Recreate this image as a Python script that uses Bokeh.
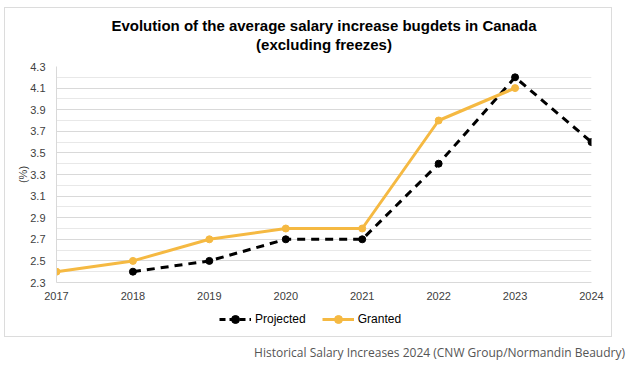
from bokeh.plotting import figure
from bokeh.models import (ColumnDataSource, FixedTicker, Legend, LegendItem, Range1d, Div, Title)
from bokeh.layouts import column
from bokeh.embed import file_html
from bokeh.resources import INLINE

years_projected = [2018, 2019, 2020, 2021, 2022, 2023, 2024]
projected = [2.4, 2.5, 2.7, 2.7, 3.4, 4.2, 3.6]
years_granted = [2017, 2018, 2019, 2020, 2021, 2022, 2023]
granted = [2.4, 2.5, 2.7, 2.8, 2.8, 3.8, 4.1]
y_ticks = [2.3, 2.5, 2.7, 2.9, 3.1, 3.3, 3.5, 3.7, 3.9, 4.1, 4.3]
x_ticks = [2017, 2018, 2019, 2020, 2021, 2022, 2023, 2024]

FONT = "Liberation Sans"
GOLD = "#F5B942"
BOX = "#dcdcdc"

p = figure(width=608, height=296, output_backend="svg", toolbar_location=None,
           x_range=Range1d(2017, 2024), y_range=Range1d(2.3, 4.3),
           min_border_left=51, min_border_right=22, min_border_top=58, min_border_bottom=22,
           margin=(7, 0, 0, 4),
           styles={"border-top": f"1px solid {BOX}", "border-left": f"1px solid {BOX}",
                   "border-right": f"1px solid {BOX}"})
p.outline_line_color = None
p.border_fill_color = "white"

p.title.text = "Evolution of the average salary increase bugdets in Canada"
p.title.align = "center"
p.title.text_font = FONT
p.title.text_font_size = "15px"
p.title.text_font_style = "bold"
p.title.text_color = "#000000"
p.title.standoff = 0
# spacer first (closest to the frame), then the second title line
p.add_layout(Title(text=" ", align="center", text_font=FONT, text_font_size="11px",
                   standoff=0), "above")
p.add_layout(Title(text="(excluding freezes)",
                   align="center", text_font=FONT, text_font_size="15px",
                   text_font_style="bold", text_color="#000000", standoff=0), "above")

src_p = ColumnDataSource(dict(x=years_projected, y=projected))
src_g = ColumnDataSource(dict(x=years_granted, y=granted))

lp = p.line("x", "y", source=src_p, line_color="black", line_width=3, line_dash="8 6")
cp = p.scatter("x", "y", source=src_p, size=7, color="black")
lg = p.line("x", "y", source=src_g, line_color=GOLD, line_width=3)
cg = p.scatter("x", "y", source=src_g, size=7, color=GOLD)

p.yaxis.ticker = FixedTicker(ticks=y_ticks, minor_ticks=[round(2.4 + 0.2 * i, 1) for i in range(10)])
p.xaxis.ticker = FixedTicker(ticks=x_ticks)
for ax in (p.xaxis, p.yaxis):
    ax.axis_line_color = "#d9d9d9"
    ax.major_tick_line_color = None
    ax.minor_tick_line_color = None
    ax.major_tick_out = 0
    ax.minor_tick_out = 0
    ax.major_label_text_font = FONT
    ax.major_label_text_font_size = "11px"
    ax.major_label_text_color = "#404040"
p.yaxis.major_label_standoff = 11
p.xaxis.major_label_standoff = 9
p.yaxis.axis_label = "(%)"
p.yaxis.axis_label_text_font = FONT
p.yaxis.axis_label_text_font_size = "11px"
p.yaxis.axis_label_text_font_style = "normal"
p.yaxis.axis_label_text_color = "#404040"
p.yaxis.axis_label_standoff = -2

p.xgrid.grid_line_color = None
p.ygrid.grid_line_color = "#d9d9d9"
p.ygrid.minor_grid_line_color = "#e8e8e8"

# legend strip below the chart (its ranges keep the series out of view; only the legend shows)
q = figure(width=608, height=34, output_backend="svg", toolbar_location=None,
           x_range=Range1d(0, 1), y_range=Range1d(0, 1),
           min_border=0, margin=(0, 0, 0, 4),
           styles={"border-bottom": f"1px solid {BOX}", "border-left": f"1px solid {BOX}",
                   "border-right": f"1px solid {BOX}"})
q.axis.visible = False
q.grid.visible = False
q.outline_line_color = None
qlp = q.line("x", "y", source=src_p, line_color="black", line_width=3, line_dash="6 4")
qcp = q.scatter("x", "y", source=src_p, size=7, color="black")
qlg = q.line("x", "y", source=src_g, line_color=GOLD, line_width=3)
qcg = q.scatter("x", "y", source=src_g, size=5, color=GOLD)
legend = Legend(items=[LegendItem(label="Projected", renderers=[qlp, qcp]),
                       LegendItem(label="Granted", renderers=[qlg, qcg])],
                orientation="horizontal", location=(163, 8))
legend.label_text_font = FONT
legend.label_text_font_size = "12px"
legend.label_text_color = "#000000"
legend.border_line_color = None
legend.background_fill_alpha = 0
legend.glyph_width = 32
legend.label_standoff = 4
legend.spacing = 16
legend.padding = 0
legend.margin = 0
q.add_layout(legend)

caption = Div(text="Historical Salary Increases 2024 (CNW Group/Normandin Beaudry)",
              width=625, margin=(7, 0, 0, 0),
              styles={"text-align": "right", "font-family": "Open Sans",
                      "font-size": "12px", "color": "#555555"})

layout = column(p, q, caption, spacing=0)
open("out.html", "w").write(file_html(layout, INLINE))
